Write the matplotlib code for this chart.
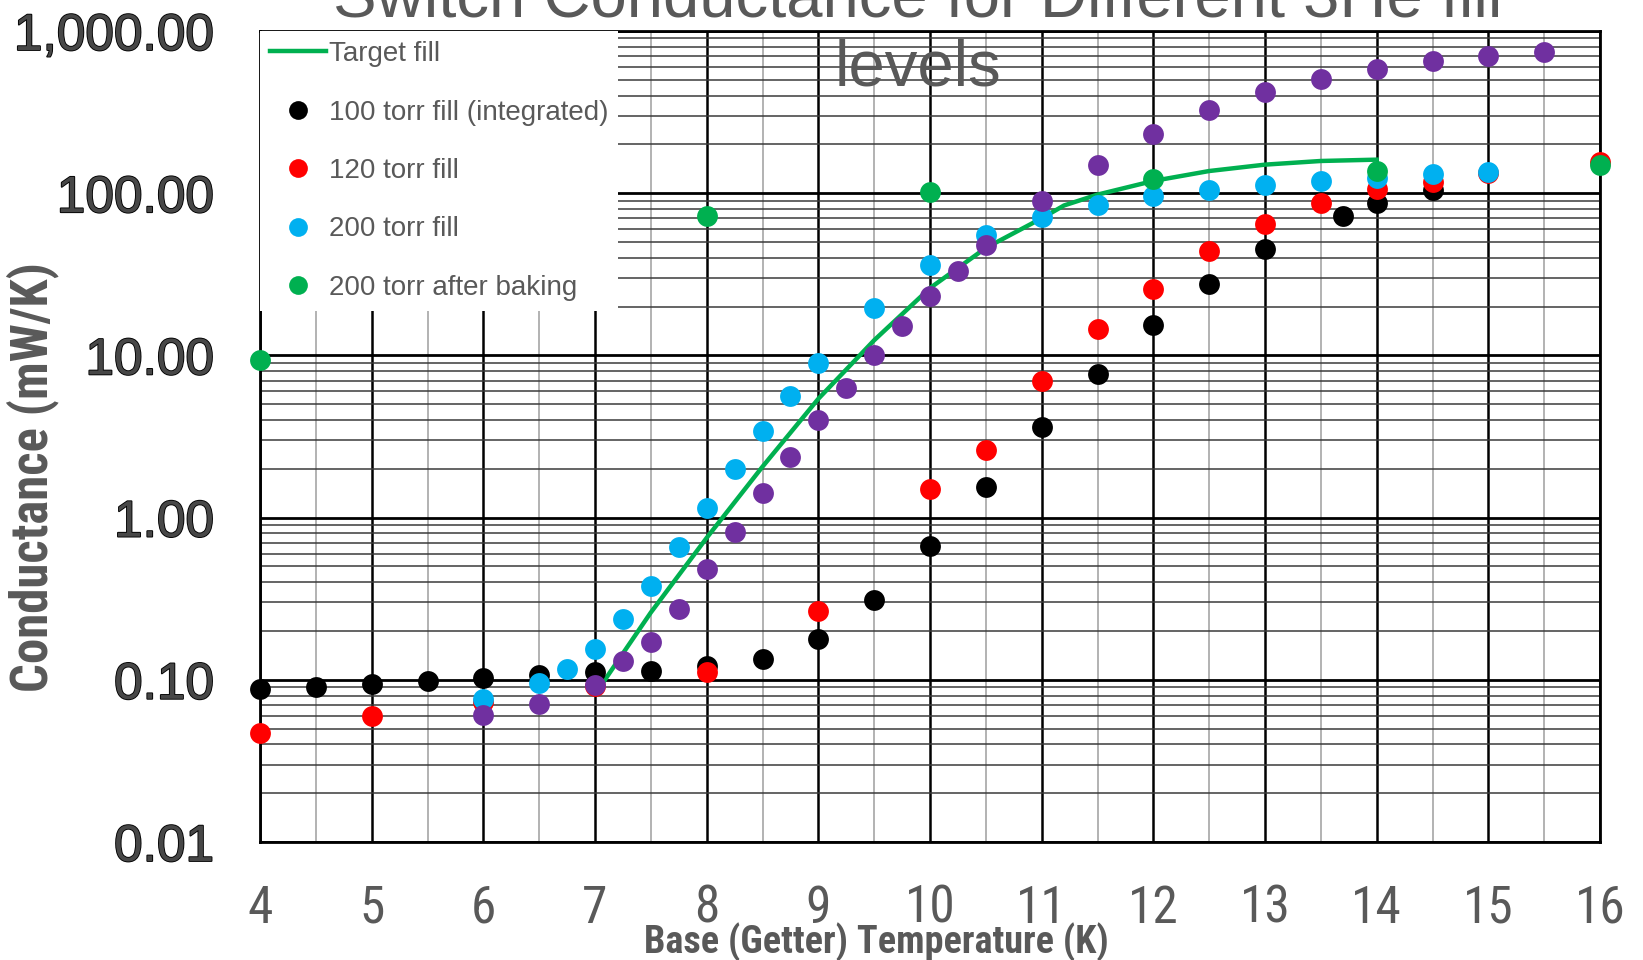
import numpy as np
import matplotlib
matplotlib.use("Agg")
import matplotlib.pyplot as plt
import matplotlib.patheffects as pe
from matplotlib import font_manager
from matplotlib.ticker import LogLocator, NullFormatter

# ---------------- fonts ----------------
names = {f.name for f in font_manager.fontManager.ttflist}
REG = "Liberation Sans" if "Liberation Sans" in names else "DejaVu Sans"
NARROW = None
for cand in ["Liberation Sans Narrow", "Roboto Condensed", "Open Sans Condensed",
             "DejaVu Sans Condensed"]:
    if cand in names:
        NARROW = cand
        break
plt.rcParams["font.family"] = REG

# ---------------- data ----------------
TITLE = "Switch Conductance for Different 3He fill\nlevels"

target_x = [7.08, 7.5, 8, 8.5, 9, 9.5, 10, 10.5, 11, 11.2, 11.5, 12, 12.5, 13, 13.5, 14]
target_y = [0.098, 0.26, 0.75, 2.06, 5.4, 12.4, 26, 46, 70, 84, 98, 119, 137, 150, 158, 161]

black_x = [4, 4.5, 5, 5.5, 6, 6.5, 7, 7.5, 8, 8.5, 9, 9.5, 10, 10.5, 11, 11.5,
           12, 12.5, 13, 13.7, 14, 14.5]
black_y = [0.088, 0.090, 0.094, 0.099, 0.102, 0.107, 0.111, 0.114, 0.122, 0.135,
           0.178, 0.31, 0.67, 1.55, 3.6, 7.7, 15.4, 27.6, 45, 72, 87, 105]

red_x = [4, 5, 6, 7, 8, 9, 10, 10.5, 11, 11.5, 12, 12.5, 13, 13.5, 14, 14.5, 15, 16]
red_y = [0.047, 0.060, 0.073, 0.091, 0.112, 0.266, 1.51, 2.6, 7.0, 14.5, 25.8,
         44, 65, 87, 106, 118, 133, 155]

blue_x = [6, 6.5, 6.75, 7, 7.25, 7.5, 7.75, 8, 8.25, 8.5, 8.75, 9, 9.5, 10, 10.5,
          11, 11.5, 12, 12.5, 13, 13.5, 14, 14.5, 15]
blue_y = [0.076, 0.095, 0.116, 0.154, 0.236, 0.38, 0.66, 1.15, 2.0, 3.4, 5.6, 9.0,
          19.7, 36, 55, 71, 85, 96, 105, 112, 119, 124, 132, 135]

green_x = [4, 8, 10, 12, 14, 16]
green_y = [9.4, 72, 101, 122, 137, 149]

purple_x = [6, 6.5, 7, 7.25, 7.5, 7.75, 8, 8.25, 8.5, 8.75, 9, 9.25, 9.5, 9.75, 10,
            10.25, 10.5, 11, 11.5, 12, 12.5, 13, 13.5, 14, 14.5, 15, 15.5]
purple_y = [0.061, 0.071, 0.093, 0.131, 0.170, 0.274, 0.48, 0.81, 1.41, 2.35, 4.0,
            6.3, 10.1, 15.1, 23.2, 33, 48, 90, 150, 231, 324, 419, 504, 583, 650,
            705, 743]

x_ticks = list(range(4, 17))
y_ticks = [0.01, 0.1, 1, 10, 100, 1000]

# ---------------- figure ----------------
fig = plt.figure(figsize=(16.43, 9.6), dpi=100)
ax = fig.add_axes([260 / 1643, 1 - 842 / 960, 1340 / 1643, 811 / 960])

ax.plot(target_x, target_y, color="#00b050", lw=3.2, label="Target fill", zorder=3)

ms = 15
series = [
    (black_x, black_y, "#000000", "100 torr fill (integrated)"),
    (red_x, red_y, "#ff0000", "120 torr fill"),
    (blue_x, blue_y, "#00b0f0", "200 torr fill"),
    (green_x, green_y, "#00b050", "200 torr after baking"),
    (purple_x, purple_y, "#7030a0", "_nolegend_"),
]
for xs, ys, c, lab in series:
    ax.plot(xs, ys, "o", color=c, ms=ms, mec="none", label=lab, zorder=4,
            clip_on=False)

ax.set_yscale("log")
ax.set_xlim(4, 16)
ax.set_ylim(0.01, 1000)

ax.set_xticks(x_ticks)
ax.set_xticklabels([str(t) for t in x_ticks])
ax.set_xticks(np.arange(4.5, 16, 1.0), minor=True)
ax.set_yticks(y_ticks)
ax.set_yticklabels([f"{v:,.2f}" for v in y_ticks])
ax.yaxis.set_minor_locator(LogLocator(base=10, subs=range(2, 10)))
ax.yaxis.set_minor_formatter(NullFormatter())

xt_size = 37 if NARROW else 32
ax.tick_params(which="both", length=0)
ax.tick_params(axis="x", pad=30, labelsize=xt_size, labelcolor="#595959")
ax.tick_params(axis="y", pad=33, labelsize=37, labelcolor="#474747")
if NARROW:
    for lab in ax.get_xticklabels():
        lab.set_fontfamily(NARROW)
for lab in ax.get_yticklabels():
    lab.set_path_effects([pe.withStroke(linewidth=1.3, foreground="black")])

# grid
ax.xaxis.grid(True, which="major", color="black", lw=1.8)
ax.xaxis.grid(True, which="minor", color="#a6a6a6", lw=1.2)
ax.yaxis.grid(True, which="major", color="black", lw=2.0)
ax.yaxis.grid(True, which="minor", color="#3a3a3a", lw=1.1)
ax.set_axisbelow(True)
for s in ax.spines.values():
    s.set_linewidth(2)
    s.set_color("black")

lab_family = NARROW if NARROW else REG
ax.set_xlabel("Base (Getter) Temperature (K)", fontsize=27.5 if NARROW else 23,
              fontweight="bold", color="#595959", family=lab_family)
ax.xaxis.set_label_coords(0.46, -0.099)
ax.set_ylabel("Conductance (mW/K)", fontsize=36.5 if NARROW else 31,
              fontweight="bold", color="#595959", family=lab_family)
ax.yaxis.set_label_coords(-0.150, 0.45)

leg = ax.legend(loc="upper left", bbox_to_anchor=(0, 1), borderaxespad=0,
                frameon=True, fancybox=False, framealpha=1, facecolor="white",
                edgecolor="none", fontsize=20, labelcolor="#595959",
                handlelength=2.0, handletextpad=0.12, labelspacing=1.17,
                borderpad=0.36, markerscale=0.9)
leg.set_zorder(6)

fig.text(918 / 1643, 1 - 85 / 960, TITLE, ha="center", va="baseline",
         fontsize=47, color="#595959", linespacing=1.18)

fig.savefig("out.png", dpi=100)
